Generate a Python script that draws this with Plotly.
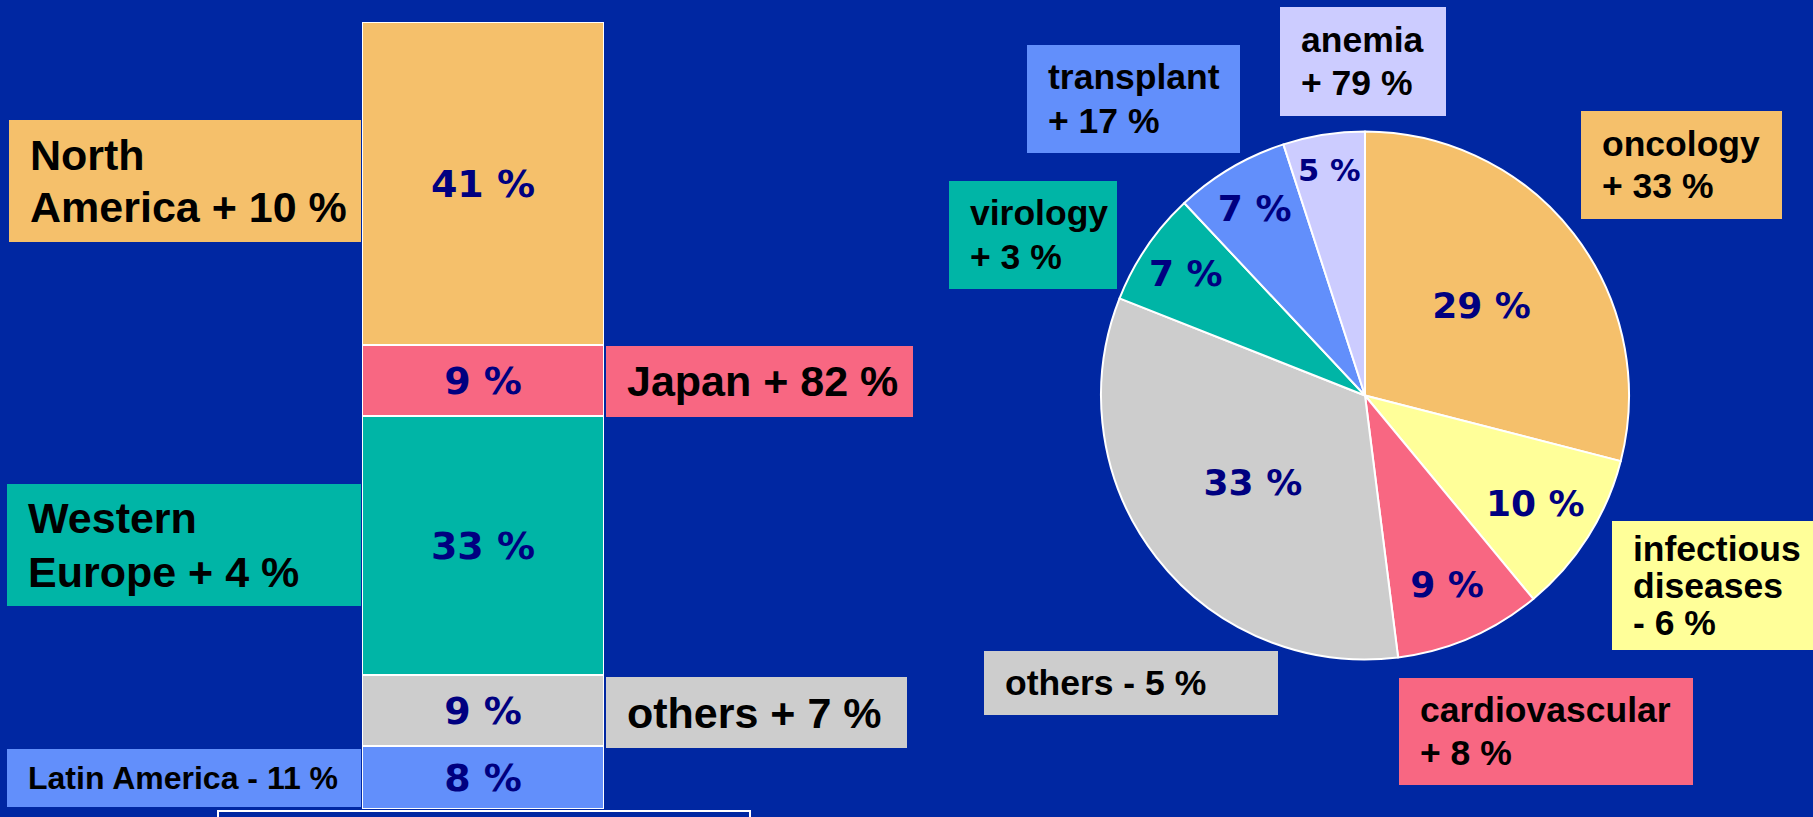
import plotly.graph_objects as go

# ---------------- data ----------------
regions = ["North America", "Japan", "Western Europe", "others", "Latin America"]
region_display = ["North<br>America", "Japan", "Western<br>Europe", "others", "Latin America"]
region_share = [41, 9, 33, 9, 8]
region_growth = ["+ 10 %", "+ 82 %", "+ 4 %", "+ 7 %", "- 11 %"]

areas = ["oncology", "infectious diseases", "cardiovascular", "others",
         "virology", "transplant", "anemia"]
area_display = ["oncology", "infectious<br>diseases", "cardiovascular", "others",
                "virology", "transplant", "anemia"]
area_sep = ["<br>", "<br>", "<br>", " ", "<br>", "<br>", "<br>"]
area_share = [29, 10, 9, 33, 7, 7, 5]
area_growth = ["+ 33 %", "- 6 %", "+ 8 %", "- 5 %", "+ 3 %", "+ 17 %", "+ 79 %"]

# ---------------- style ----------------
W, H = 1813, 817
BG = "#0027A2"
NAVY = "#000080"
region_colors = ["#F5C06B", "#F86782", "#00B5A6", "#CDCDCD", "#628FFB"]
area_colors = ["#F5C06B", "#FFFF99", "#F86782", "#CDCDCD", "#00B5A6", "#628FFB", "#CCCCFF"]

LABEL_FONT = "Liberation Sans, Arial, Helvetica, sans-serif"
PCT_FONT = "DejaVu Sans, Verdana, sans-serif"

# label boxes (pixel layout)
region_boxes = [(9, 120, 361, 242), (606, 346, 913, 417), (7, 484, 361, 606),
                (606, 677, 907, 748), (7, 749, 361, 807)]
region_font = [43, 43, 43, 43, 32]
region_spacing = [52, 51, 54, 51, 51]

area_boxes = [(1581, 111, 1782, 219), (1612, 521, 1813, 650), (1399, 678, 1693, 785),
              (984, 651, 1278, 715), (949, 181, 1117, 289), (1027, 45, 1240, 153),
              (1280, 7, 1446, 116)]
area_font = [35.5] * 7
area_spacing = [43, 37, 43, 43, 44, 44, 43]


def X(px):
    return px / W


def Y(py):
    return 1 - py / H


fig = go.Figure()

# stacked bar (bottom segment first)
for i in reversed(range(len(regions))):
    fig.add_trace(go.Bar(
        x=[0], y=[region_share[i]], width=1, name=regions[i],
        marker=dict(color=region_colors[i], line=dict(color="white", width=2)),
        text=[f"{region_share[i]} %"], textposition="inside",
        insidetextanchor="middle", textangle=0,
        textfont=dict(family=PCT_FONT, size=38, color=NAVY, weight="bold"),
        hoverinfo="skip", showlegend=False,
    ))

# pie
cx, cy, r = 1365, 395.5, 264
fig.add_trace(go.Pie(
    labels=areas, values=area_share, sort=False, direction="clockwise", rotation=0,
    marker=dict(colors=area_colors, line=dict(color="white", width=2)),
    text=[f"{v} %" for v in area_share], textinfo="text", textposition="inside",
    insidetextorientation="horizontal",
    textfont=dict(family=PCT_FONT, size=36, color=NAVY, weight="bold"),
    domain=dict(x=[X(cx - r), X(cx + r)], y=[Y(cy + r), Y(cy - r)]),
    hoverinfo="skip", showlegend=False,
))

shapes = []
annotations = []


def add_label(box, color, text, size, spacing):
    x0, y0, x1, y1 = box
    shapes.append(dict(type="rect", xref="paper", yref="paper",
                       x0=X(x0), x1=X(x1), y0=Y(y1), y1=Y(y0),
                       fillcolor=color, line=dict(width=0), layer="below"))
    lines = text.split("<br>")
    mid = (y0 + y1) / 2
    n = len(lines)
    for k, ln in enumerate(lines):
        yy = mid + (k - (n - 1) / 2) * spacing
        annotations.append(dict(
            x=X(x0 + 19), y=Y(yy), xref="paper", yref="paper",
            xanchor="left", yanchor="middle", showarrow=False, text=ln,
            font=dict(family=LABEL_FONT, size=size, color="black", weight="bold")))


for i in range(len(regions)):
    add_label(region_boxes[i], region_colors[i],
              f"{region_display[i]} {region_growth[i]}", region_font[i], region_spacing[i])

for i in range(len(areas)):
    add_label(area_boxes[i], area_colors[i],
              f"{area_display[i]}{area_sep[i]}{area_growth[i]}", area_font[i], area_spacing[i])

# outlined box at the bottom edge
shapes.append(dict(type="rect", xref="paper", yref="paper",
                   x0=X(218), x1=X(750), y0=Y(840), y1=Y(811),
                   fillcolor="rgba(0,0,0,0)", line=dict(color="white", width=2)))

fig.update_layout(
    width=W, height=H, margin=dict(l=0, r=0, t=0, b=0),
    paper_bgcolor=BG, plot_bgcolor="rgba(0,0,0,0)",
    barmode="stack", bargap=0, showlegend=False,
    xaxis=dict(domain=[X(362), X(604)], range=[-0.5, 0.5], visible=False, fixedrange=True),
    yaxis=dict(domain=[Y(809), Y(22)], range=[0, 100], visible=False, fixedrange=True),
    shapes=shapes, annotations=annotations,
)

fig.write_html("out.html", config={"displayModeBar": False},
               post_script="document.body.style.margin='0';document.body.style.overflow='hidden';")
